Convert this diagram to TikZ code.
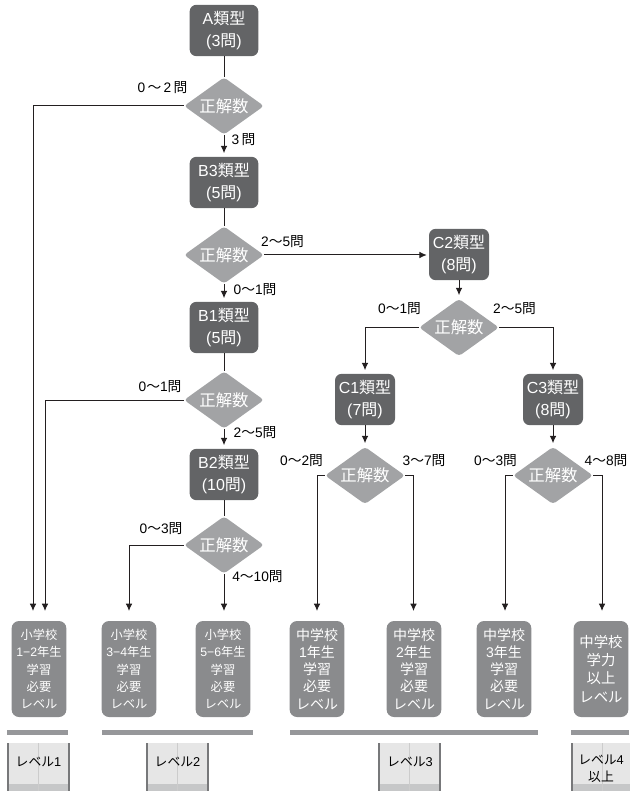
\documentclass[tikz,border=0pt]{standalone}
\usepackage{fontspec}
\setmainfont{Noto Sans CJK JP}
\newfontfamily\lf{Liberation Sans}
\newcommand{\lt}[1]{{\lf #1}}
\usetikzlibrary{shapes.geometric,arrows.meta}
\definecolor{typebox}{HTML}{636466}
\definecolor{diam}{HTML}{A2A3A5}
\definecolor{lvlbox}{HTML}{8A8B8D}
\definecolor{barc}{HTML}{96979A}
\definecolor{bookc}{HTML}{E6E6E6}
\definecolor{bookb}{HTML}{C6C7C8}
\definecolor{bookside}{HTML}{77787A}
\definecolor{linec}{HTML}{231F20}
\tikzset{
  typenode/.style={rectangle,rounded corners=5pt,fill=typebox,text=white,minimum width=51.5pt,minimum height=38.5pt,inner sep=0pt,align=center,font=\fontsize{12}{16.8}\selectfont},
  decide/.style={diamond,rounded corners=2.5pt,fill=diam,text=white,minimum width=60pt,minimum height=43pt,inner sep=0pt,aspect=1.4,font=\fontsize{12.3}{14}\selectfont},
  small/.style={rectangle,rounded corners=5.5pt,fill=lvlbox,text=white,minimum width=41pt,minimum height=72pt,inner sep=0pt,align=center,font=\fontsize{9.2}{12.9}\selectfont},
  mid/.style={small,font=\fontsize{10.5}{12.9}\selectfont},
  big/.style={small,font=\fontsize{10.8}{13.6}\selectfont},
  lab/.style={inner sep=0pt,text=black,font=\fontsize{10.3}{12}\selectfont},
  link/.style={draw=linec,line width=0.75pt},
  arrow/.style={link,-{Latex[length=5.5pt,width=5pt]}},
  toarrow/.style={arrow,shorten >=2.5pt},
  barline/.style={fill=barc,draw=none},
  booklab/.style={inner sep=0pt,align=center,text=black,font=\fontsize{9.6}{13}\selectfont}
}
\newcommand{\bookdraw}[1]{%
  \fill[bookc] (#1,743) rectangle (#1+63,791);
  \fill[bookb] (#1,784) rectangle (#1+63,791);
  \draw[white!80!black,line width=0.5pt] (#1+31.5,743) -- (#1+31.5,791);
  \fill[bookside] (#1,743) rectangle (#1+1.6,791);
  \fill[bookside] (#1+61.4,743) rectangle (#1+63,791);
}
\begin{document}
\begin{tikzpicture}[x=0.75pt,y=-0.75pt]
\useasboundingbox (0,0) rectangle (629,791);
% type boxes
\node[typenode] (A) at (224,30.5) {\lt{A}類型\\\lt{(3}問\lt{)}};
\node[typenode] (B3) at (224,182.5) {\lt{B3}類型\\\lt{(5}問\lt{)}};
\node[typenode] (B1) at (224,327.5) {\lt{B1}類型\\\lt{(5}問\lt{)}};
\node[typenode] (B2) at (224,474.5) {\lt{B2}類型\\\lt{(10}問\lt{)}};
\node[typenode,minimum width=45pt] (C2) at (459,254.5) {\lt{C2}類型\\\lt{(8}問\lt{)}};
\node[typenode,minimum width=45pt] (C1) at (365,399.5) {\lt{C1}類型\\\lt{(7}問\lt{)}};
\node[typenode,minimum width=45pt] (C3) at (553,399.5) {\lt{C3}類型\\\lt{(8}問\lt{)}};
% diamonds
\node[decide] (d1) at (224,106) {正解数};
\node[decide] (d2) at (224,255) {正解数};
\node[decide] (d3) at (224,400) {正解数};
\node[decide] (d4) at (224,545) {正解数};
\node[decide] (d5) at (459,327.5) {正解数};
\node[decide] (d6) at (365,475.5) {正解数};
\node[decide] (d7) at (553,475.5) {正解数};
% result boxes
\node[small] (r1) at (39,669) {小学校\\\lt{1−2}年生\\学習\\必要\\レベル};
\node[small] (r2) at (129,669) {小学校\\\lt{3−4}年生\\学習\\必要\\レベル};
\node[small] (r3) at (223,669) {小学校\\\lt{5−6}年生\\学習\\必要\\レベル};
\node[mid] (r4) at (317,669) {中学校\\\lt{1}年生\\学習\\必要\\レベル};
\node[mid] (r5) at (414,669) {中学校\\\lt{2}年生\\学習\\必要\\レベル};
\node[mid] (r6) at (504,669) {中学校\\\lt{3}年生\\学習\\必要\\レベル};
\node[big] (r7) at (601,669) {中学校\\学力\\以上\\レベル};
% arrow ends
\coordinate (e1a) at (33,611);
\coordinate (e1b) at (45,611);
\coordinate (e2) at (129,611);
\coordinate (e3) at (224,611);
\coordinate (e4) at (317,611);
\coordinate (e5) at (413.5,611);
\coordinate (e6) at (505,611);
\coordinate (e7) at (602,611);
% connectors
\draw[link] (A) -- (d1);
\draw[toarrow] (d1) -- (B3);
\draw[link] (B3) -- (d2);
\draw[toarrow] (d2) -- (B1);
\draw[link] (B1) -- (d3);
\draw[toarrow] (d3) -- (B2);
\draw[link] (B2) -- (d4);
\draw[arrow,shorten >=1.5pt] (d2.east) -- (d2.east -| C2.west);
\draw[toarrow] (C2) -- (d5);
\draw[arrow] (d1.west) -| (e1a);
\draw[arrow] (d3.west) -| (e1b);
\draw[arrow] (d4.west) -| (e2);
\draw[arrow] (d4.south) -- (e3);
\draw[toarrow] (d5.west) -| (C1.north);
\draw[toarrow] (d5.east) -| (C3.north);
\draw[toarrow] (C1) -- (d6);
\draw[toarrow] (C3) -- (d7);
\draw[arrow] (d6.west) -| (e4);
\draw[arrow] (d6.east) -| (e5);
\draw[arrow] (d7.west) -| (e6);
\draw[arrow] (d7.east) -| (e7);
% labels
\node[lab] at (162.5,88) {\lt{0}\,～\,\lt{2}\,問};
\node[lab] at (243.5,140) {\lt{3}\,問};
\node[lab] at (282.5,242) {\lt{2}～\lt{5}問};
\node[lab] at (255,290) {\lt{0}～\lt{1}問};
\node[lab] at (399.5,309) {\lt{0}～\lt{1}問};
\node[lab] at (514.5,309) {\lt{2}～\lt{5}問};
\node[lab] at (160,387) {\lt{0}～\lt{1}問};
\node[lab] at (255,433) {\lt{2}～\lt{5}問};
\node[lab] at (161,529) {\lt{0}～\lt{3}問};
\node[lab] at (257.5,577) {\lt{4}～\lt{10}問};
\node[lab] at (301.5,461) {\lt{0}～\lt{2}問};
\node[lab] at (424,461) {\lt{3}～\lt{7}問};
\node[lab] at (495.5,461) {\lt{0}～\lt{3}問};
\node[lab] at (606,461) {\lt{4}～\lt{8}問};
% bars
\fill[barline] (7,730) rectangle (68,735);
\fill[barline] (102,730) rectangle (253,735);
\fill[barline] (290,730) rectangle (538,735);
\fill[barline] (571,730) rectangle (629,735);
% books
\bookdraw{7}
\bookdraw{146}
\bookdraw{378}
\bookdraw{571}
\node[booklab] (k1) at (38.5,762) {レベル\lt{1}};
\node[booklab] (k2) at (177.5,762) {レベル\lt{2}};
\node[booklab] (k3) at (410,762) {レベル\lt{3}};
\node[booklab] (k4) at (601,769) {レベル\lt{4}\\以上};
\end{tikzpicture}
\end{document}
